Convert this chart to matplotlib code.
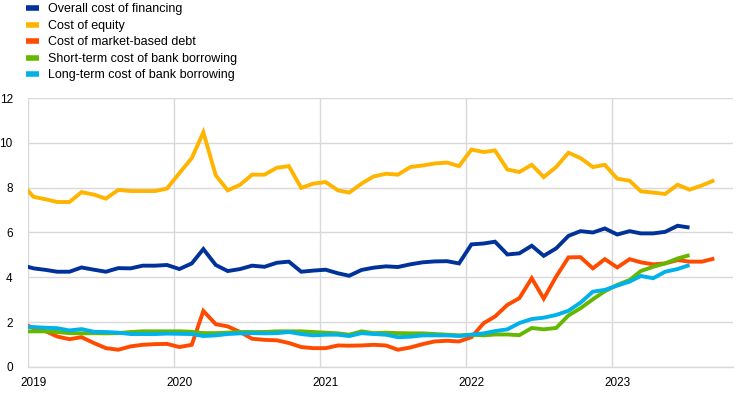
import matplotlib
matplotlib.use("Agg")
import matplotlib.pyplot as plt
import numpy as np
import pandas as pd

# monthly observations, Dec 2018 .. Sep 2023 (mid-month)
dates = pd.date_range("2018-12-01", "2023-09-01", freq="MS") + pd.Timedelta(days=14)

overall = [4.55,
    4.40, 4.33, 4.25, 4.25, 4.44, 4.34, 4.25, 4.41, 4.40, 4.52, 4.52, 4.55,
    4.37, 4.62, 5.26, 4.55, 4.28, 4.37, 4.52, 4.47, 4.65, 4.70, 4.25, 4.30,
    4.34, 4.18, 4.07, 4.33, 4.43, 4.49, 4.46, 4.58, 4.67, 4.71, 4.72, 4.62,
    5.47, 5.51, 5.59, 5.02, 5.07, 5.41, 4.96, 5.29, 5.85, 6.06, 6.00, 6.18,
    5.91, 6.06, 5.96, 5.96, 6.03, 6.30, 6.22, np.nan, np.nan]
equity = [8.20,
    7.59, 7.48, 7.36, 7.36, 7.80, 7.69, 7.51, 7.90, 7.85, 7.85, 7.85, 7.96,
    8.65, 9.32, 10.47, 8.55, 7.88, 8.13, 8.58, 8.58, 8.89, 8.96, 7.99, 8.18,
    8.25, 7.88, 7.78, 8.18, 8.50, 8.62, 8.58, 8.92, 8.99, 9.08, 9.12, 8.96,
    9.70, 9.59, 9.66, 8.81, 8.70, 9.02, 8.47, 8.92, 9.56, 9.32, 8.92, 9.02,
    8.40, 8.31, 7.84, 7.78, 7.72, 8.13, 7.91, 8.10, 8.33]
market_debt = [1.98,
    1.73, 1.59, 1.36, 1.24, 1.33, 1.07, 0.84, 0.77, 0.92, 0.99, 1.02, 1.03,
    0.89, 0.99, 2.50, 1.91, 1.81, 1.56, 1.26, 1.21, 1.19, 1.07, 0.89, 0.84,
    0.84, 0.96, 0.95, 0.96, 0.99, 0.96, 0.77, 0.87, 1.02, 1.14, 1.17, 1.14,
    1.33, 1.96, 2.25, 2.77, 3.07, 3.96, 3.05, 4.03, 4.89, 4.90, 4.40, 4.81,
    4.44, 4.81, 4.67, 4.58, 4.62, 4.77, 4.70, 4.70, 4.84]
short_bank = [1.59,
    1.59, 1.59, 1.56, 1.51, 1.50, 1.51, 1.50, 1.51, 1.56, 1.59, 1.59, 1.59,
    1.59, 1.57, 1.51, 1.51, 1.53, 1.56, 1.56, 1.56, 1.59, 1.59, 1.59, 1.56,
    1.53, 1.50, 1.44, 1.59, 1.51, 1.53, 1.51, 1.50, 1.50, 1.47, 1.44, 1.41,
    1.44, 1.41, 1.45, 1.45, 1.42, 1.74, 1.68, 1.74, 2.30, 2.62, 3.02, 3.38,
    3.66, 3.88, 4.28, 4.47, 4.62, 4.84, 4.99, np.nan, np.nan]
long_bank = [1.80,
    1.78, 1.75, 1.73, 1.63, 1.69, 1.57, 1.56, 1.53, 1.47, 1.47, 1.47, 1.49,
    1.48, 1.47, 1.38, 1.41, 1.47, 1.50, 1.51, 1.50, 1.51, 1.56, 1.47, 1.41,
    1.44, 1.44, 1.38, 1.51, 1.47, 1.44, 1.33, 1.35, 1.41, 1.41, 1.41, 1.38,
    1.44, 1.50, 1.60, 1.68, 1.96, 2.14, 2.20, 2.32, 2.51, 2.87, 3.36, 3.44,
    3.63, 3.81, 4.06, 3.96, 4.25, 4.37, 4.55, np.nan, np.nan]

labels = ["Overall cost of financing", "Cost of equity", "Cost of market-based debt",
          "Short-term cost of bank borrowing", "Long-term cost of bank borrowing"]
colors = ["#003299", "#FFB400", "#FF4B00", "#65B800", "#00B1EA"]
series = [overall, equity, market_debt, short_bank, long_bank]
year_ticks = ["2019", "2020", "2021", "2022", "2023"]
y_ticks = [0, 2, 4, 6, 8, 10, 12]

plt.rcParams["font.family"] = ["Liberation Sans", "DejaVu Sans"]
fig = plt.figure(figsize=(7.42, 3.93), dpi=100)
ax = fig.add_axes([0.0377, 0.0662, 0.9503, 0.6844])

for s, c, l in zip(series, colors, labels):
    ax.plot(dates, s, color=c, lw=2.8, label=l, solid_capstyle="butt", solid_joinstyle="miter")

ax.set_xlim(pd.Timestamp("2019-01-01"), pd.Timestamp("2023-11-01"))
ax.set_ylim(0, 12)
ax.set_yticks(y_ticks)
ax.set_yticklabels([str(v) for v in y_ticks])

major = [pd.Timestamp(f"{y}-01-01") for y in year_ticks]
minor = [pd.Timestamp(f"{y}-01-16") for y in year_ticks]
ax.set_xticks(major)
ax.set_xticklabels([])
ax.set_xticks(minor, minor=True)
ax.set_xticklabels(year_ticks, minor=True)
ax.tick_params(axis="x", which="both", length=0, pad=7, labelsize=8.5, colors="#000000")
ax.tick_params(axis="y", length=0, pad=11, labelsize=8.5)

ax.grid(True, which="major", color="#d9d9d9", lw=1)
ax.set_axisbelow(True)
for side in ["top", "right", "left"]:
    ax.spines[side].set_visible(False)
ax.spines["bottom"].set_color("#d9d9d9")
ax.spines["bottom"].set_linewidth(1)

leg = fig.legend(loc="upper left", bbox_to_anchor=(0.028, 1.004), frameon=False,
                 fontsize=9, handlelength=1.05, handletextpad=0.75, labelspacing=0.36,
                 borderaxespad=0)
for h in leg.get_lines():
    h.set_linewidth(4)

fig.savefig("out.png", dpi=100)
